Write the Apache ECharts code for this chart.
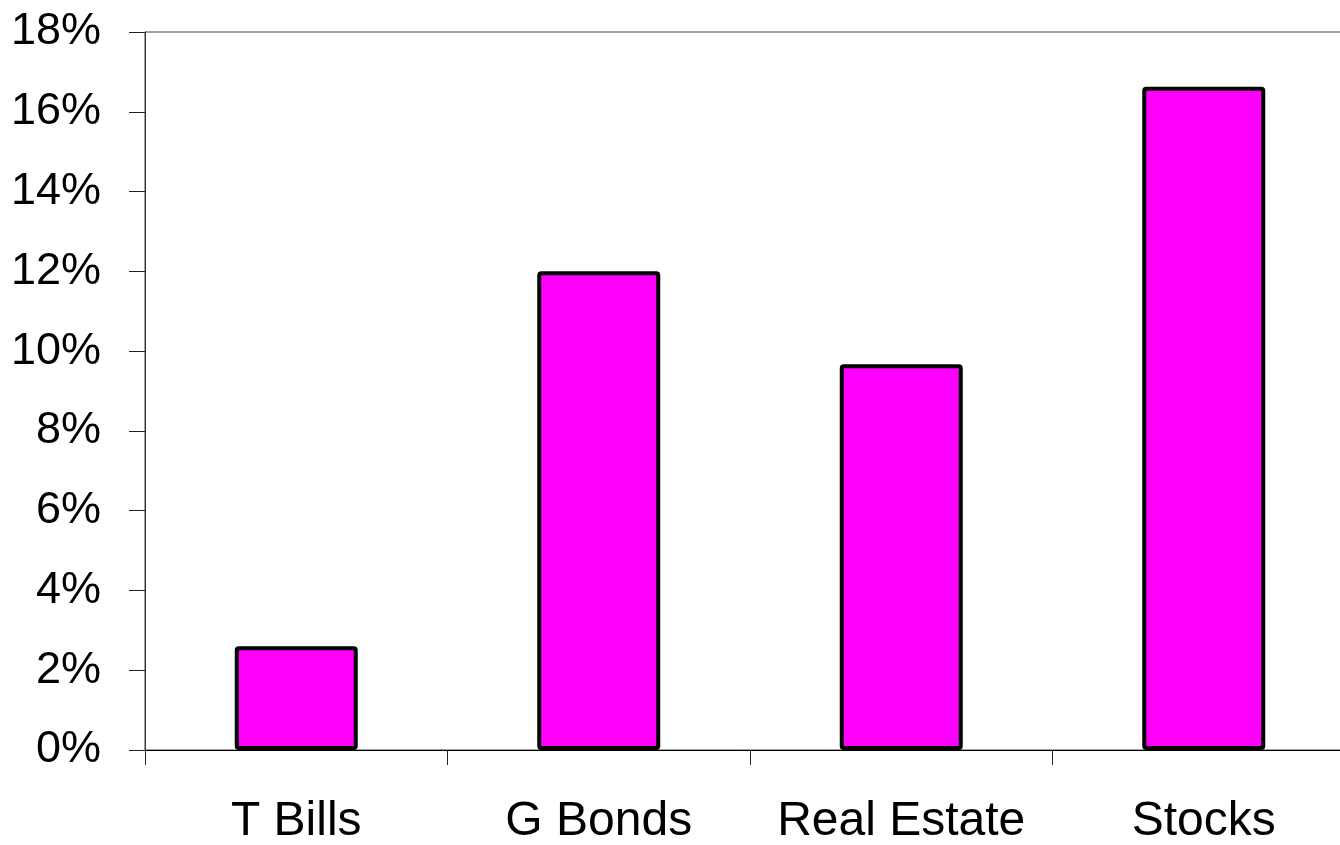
<!DOCTYPE html>
<html>
<head>
<meta charset="utf-8">
<script src="https://cdn.jsdelivr.net/npm/echarts@6/dist/echarts.min.js"></script>
<style>
  html, body { margin: 0; padding: 0; background: #fff; }
  #main { width: 1340px; height: 845px; }
</style>
</head>
<body>
<div id="main"></div>
<script>
// categories and values (%)
const categories = ['T Bills', 'G Bonds', 'Real Estate', 'Stocks'];
const returns = [2.6, 12.0, 9.67, 16.63];
const yTicks = [0, 2, 4, 6, 8, 10, 12, 14, 16, 18];

const chart = echarts.init(document.getElementById('main'));
chart.setOption({
  backgroundColor: '#ffffff',
  animation: false,
  grid: {
    left: 145,
    width: 1210,
    top: 32,
    bottom: 95,
    outerBoundsMode: 'none',
    containLabel: false,
    show: true,
    borderColor: '#444',
    borderWidth: 1
  },
  xAxis: {
    type: 'category',
    data: categories,
    axisLine: { lineStyle: { color: '#000', width: 1 } },
    axisTick: { show: true, length: 15, lineStyle: { color: '#222' } },
    axisLabel: {
      interval: 0,
      color: '#000',
      fontFamily: 'Liberation Sans, Arial, sans-serif',
      fontSize: 48,
      margin: 48
    },
    splitLine: { show: false }
  },
  yAxis: {
    type: 'value',
    min: yTicks[0],
    max: yTicks[yTicks.length - 1],
    interval: 2,
    axisLine: { show: true, lineStyle: { color: '#333', width: 1 } },
    axisTick: { show: true, length: 16, lineStyle: { color: '#222' } },
    axisLabel: {
      color: '#000',
      fontFamily: 'Liberation Sans, Arial, sans-serif',
      fontSize: 45,
      margin: 44,
      formatter: '{value}%'
    },
    splitLine: { show: false }
  },
  series: [{
    type: 'bar',
    data: returns,
    barWidth: 123,
    itemStyle: {
      color: '#ff00ff',
      borderColor: '#000',
      borderWidth: 4,
      borderRadius: 2
    }
  }]
});
</script>
</body>
</html>
